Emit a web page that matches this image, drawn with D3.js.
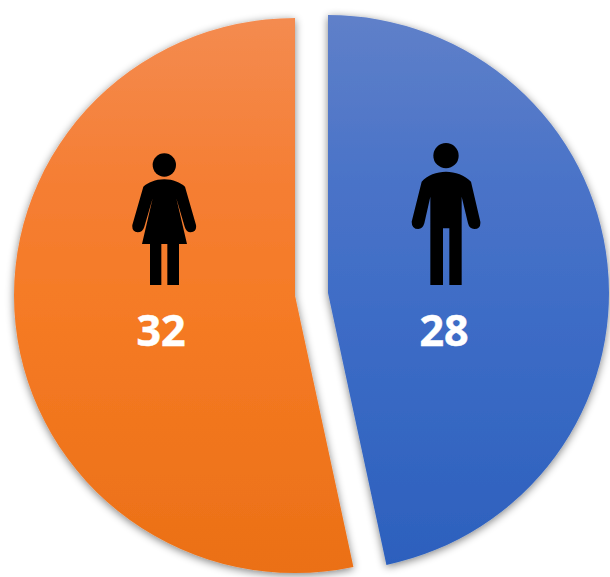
<!DOCTYPE html>
<html>
<head>
<meta charset="utf-8">
<script src="https://cdn.jsdelivr.net/npm/d3@7/dist/d3.min.js"></script>
<style>
html,body{margin:0;padding:0;background:#fff;overflow:hidden}
svg{display:block}
text{font-family:"Open Sans",sans-serif;font-weight:700;fill:#fff}
</style>
</head>
<body>
<svg id="c" width="610" height="577"></svg>
<script>
const categories = ["Men", "Women"];
const values = [28, 32];
const tickLabels = ["28", "32"];
const colourStopsBlue = ["#5F80C9", "#4A73C8", "#3D6CC6", "#2C60BD"];
const colourStopsOrange = ["#F48B50", "#F57E33", "#F57A24", "#EB7016"];
const colourStops = [colourStopsBlue, colourStopsOrange];
const stopOffsets = [0, 0.3, 0.55, 1];

const W = 610, H = 577, R = 281;
const svg = d3.select("#c").attr("viewBox", [0, 0, W, H]);
const defs = svg.append("defs");

const shadow = defs.append("filter").attr("id", "sh")
  .attr("x", "-10%").attr("y", "-10%").attr("width", "120%").attr("height", "120%");
shadow.append("feGaussianBlur").attr("in", "SourceAlpha").attr("stdDeviation", 4).attr("result", "b");
shadow.append("feOffset").attr("in", "b").attr("dx", 0).attr("dy", 2).attr("result", "o");
shadow.append("feComponentTransfer").attr("in", "o").attr("result", "s")
  .append("feFuncA").attr("type", "linear").attr("slope", 0.5);
shadow.append("feGaussianBlur").attr("in", "SourceGraphic").attr("stdDeviation", 0.6).attr("result", "soft");
const merge = shadow.append("feMerge");
merge.append("feMergeNode").attr("in", "s");
merge.append("feMergeNode").attr("in", "soft");

const layout = [
  {cx: 328, cy: 293, ry: 278, labelX: 444, labelY: 346, iconX: 390, iconY: 130, icon: "man"},
  {cx: 295, cy: 295.5, ry: 277.5, labelX: 161, labelY: 346, iconX: 100, iconY: 130, icon: "woman"}
];

const icons = {
  man: {
    head: [168, 77, 38],
    body: "M168 125C195 125 225 135 243 155L271 275Q273 297 253 297Q238 297 234 280L215 200L215 465L178 465L178 295L159 295L159 465L121 465L121 200L103 280Q98 297 85 297Q65 297 65 275L95 155C111 135 141 125 168 125Z"
  },
  woman: {
    head: [193, 105, 35],
    body: "M193 148C220 148 240 158 255 170L288 285Q291 305 272 307Q259 307 254 290L229 205L261 342L237 342L237 465L202 465L202 342L184 342L184 465L150 465L150 342L126 342L158 205L133 290Q128 307 113 307Q95 305 97 285L130 170C145 158 165 148 193 148Z"
  }
};

const pie = d3.pie().sort(null).value(d => d);
const arc = d3.arc().innerRadius(0).outerRadius(R);
const arcs = pie(values);

arcs.forEach((a, i) => {
  const g = defs.append("linearGradient").attr("id", "g" + i)
    .attr("gradientUnits", "userSpaceOnUse")
    .attr("x1", 0).attr("x2", 0).attr("y1", -R).attr("y2", R);
  stopOffsets.forEach((o, k) => {
    g.append("stop").attr("offset", o).attr("stop-color", colourStops[i][k]);
  });
});

svg.append("g").selectAll("g").data(arcs).join("g")
  .attr("filter", "url(#sh)")
  .append("path")
  .attr("class", (d, i) => "slice " + categories[i])
  .attr("transform", (d, i) => `translate(${layout[i].cx},${layout[i].cy}) scale(1,${layout[i].ry / R})`)
  .attr("d", arc)
  .attr("fill", (d, i) => "url(#g" + i + ")");

const iconG = svg.append("g").selectAll("g").data(layout).join("g")
  .attr("transform", d => `translate(${d.iconX},${d.iconY}) scale(${1 / 3})`);
iconG.append("circle")
  .attr("cx", d => icons[d.icon].head[0])
  .attr("cy", d => icons[d.icon].head[1])
  .attr("r", d => icons[d.icon].head[2])
  .attr("fill", "#000");
iconG.append("path").attr("d", d => icons[d.icon].body).attr("fill", "#000");

svg.append("g").selectAll("text").data(tickLabels).join("text")
  .attr("x", (d, i) => layout[i].labelX)
  .attr("y", (d, i) => layout[i].labelY)
  .attr("text-anchor", "middle")
  .attr("font-size", 43)
  .attr("stroke", "#fff")
  .attr("stroke-width", 0.5)
  .text(d => d);
</script>
</body>
</html>
